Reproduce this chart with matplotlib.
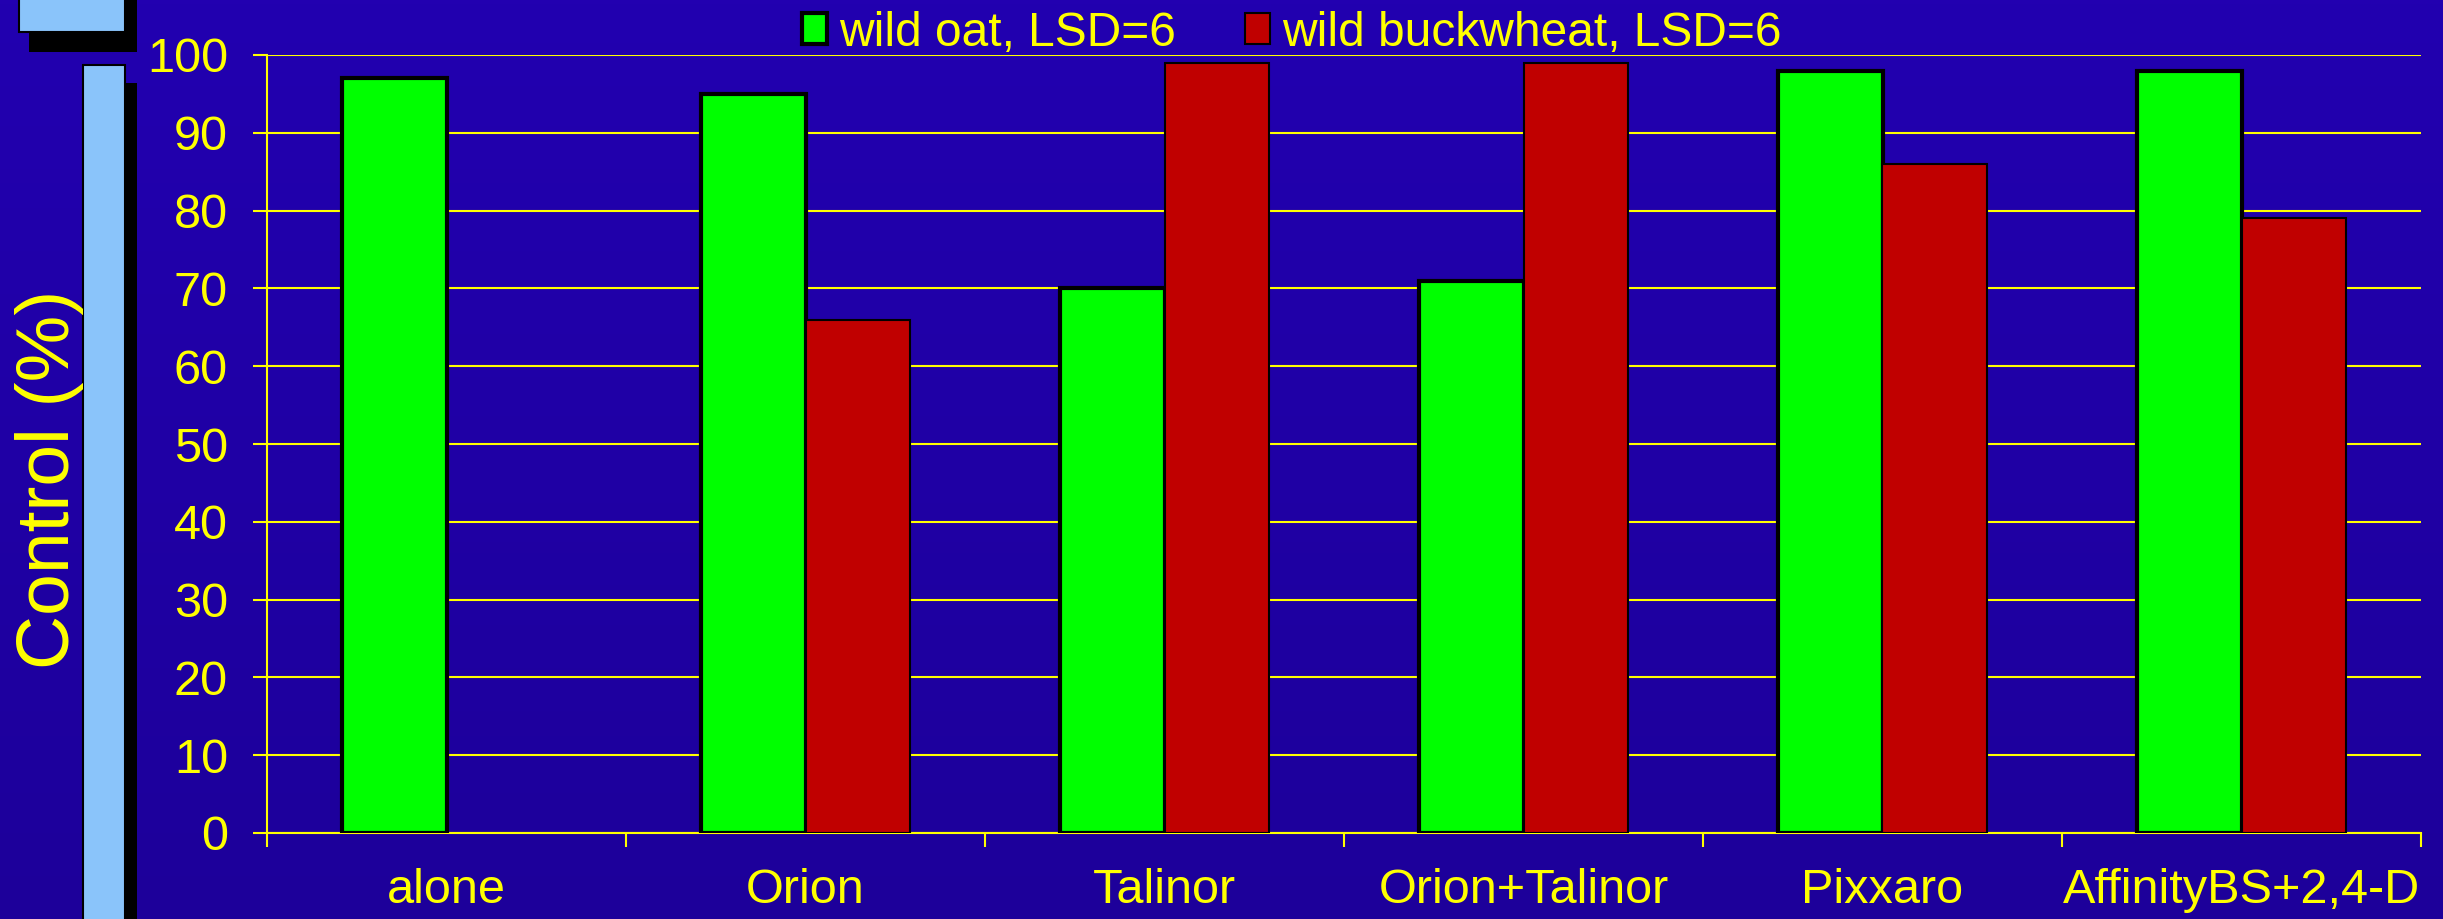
import numpy as np
import matplotlib.pyplot as plt
from matplotlib.patches import Rectangle
from matplotlib.colors import LinearSegmentedColormap

plt.rcParams['font.family'] = ['Liberation Sans', 'DejaVu Sans']

# data
categories = ["alone", "Orion", "Talinor", "Orion+Talinor", "Pixxaro", "AffinityBS+2,4-D"]
wild_oat = [97, 95, 70, 71, 98, 98]
wild_buckwheat = [np.nan, 66, 99, 99, 86, 79]
series_names = ["wild oat, LSD=6", "wild buckwheat, LSD=6"]
y_ticks = [0, 10, 20, 30, 40, 50, 60, 70, 80, 90, 100]

W, H = 2443, 919
yellow = "#FFFF00"
green = "#00FF00"
red = "#C00000"
light_blue = "#8AC4FA"

fig = plt.figure(figsize=(W / 100, H / 100), dpi=100)

# background gradient
bg = fig.add_axes([0, 0, 1, 1], zorder=-10)
cmap = LinearSegmentedColormap.from_list("bg", ["#1D009A", "#2200B0"])
bg.imshow(np.linspace(0, 1, 256).reshape(-1, 1), aspect="auto", cmap=cmap,
          origin="lower", extent=[0, 1, 0, 1])
bg.set_axis_off()


# helper: rectangle in pixel coords measured from the top-left corner
def px_rect(x0, y0, x1, y1, color, edge=None, lw=0):
    r = Rectangle((x0 / W, 1 - y1 / H), (x1 - x0) / W, (y1 - y0) / H,
                  transform=fig.transFigure, facecolor=color,
                  edgecolor=edge if edge else color, linewidth=lw, zorder=-5)
    fig.add_artist(r)


# decorative slide elements
px_rect(29, -5, 137, 52, "black")
px_rect(19, -5, 125, 32, light_blue, "black", 1.5)
px_rect(125, 83, 137, 930, "black")
px_rect(83, 65, 125, 930, light_blue, "black", 1.5)

ax = fig.add_axes([267 / W, 1 - 833 / H, (2421 - 267) / W, (833 - 55) / H])
ax.patch.set_alpha(0)

x = np.arange(len(categories))
w = 0.29
oat = np.array(wild_oat, dtype=float)
buck = np.array(wild_buckwheat, dtype=float)
mask = ~np.isnan(buck)

ax.bar(x - w / 2, oat, w, color=green, edgecolor="black", linewidth=3, zorder=3)
ax.bar(x[mask] + w / 2, buck[mask], w, color=red, edgecolor="black", linewidth=1.5, zorder=3)

ax.set_xlim(-0.5, len(categories) - 0.5)
ax.set_ylim(0, 100)
ax.set_yticks(y_ticks)
ax.set_xticks(x)
ax.set_xticklabels(categories)
ax.set_xticks(np.arange(len(categories) + 1) - 0.5, minor=True)

ax.yaxis.grid(True, color=yellow, linewidth=1.5)
ax.set_axisbelow(True)

for side in ["top", "right"]:
    ax.spines[side].set_visible(False)
for side in ["left", "bottom"]:
    ax.spines[side].set_color(yellow)
    ax.spines[side].set_linewidth(1.5)

ax.tick_params(axis="y", colors=yellow, labelsize=35, length=10, width=1.5, pad=18)
ax.tick_params(axis="x", which="major", colors=yellow, labelsize=35, length=0, pad=25)
ax.tick_params(axis="x", which="minor", colors=yellow, length=10, width=1.5)

fig.text(50 / W, 1 - 479 / H, "Control (%)", rotation=90, color=yellow,
         fontsize=54, ha="center", va="center")

handles = [
    Rectangle((0, 0), 1, 1, facecolor=green, edgecolor="black", linewidth=3),
    Rectangle((0, 0), 1, 1, facecolor=red, edgecolor="black", linewidth=1.5),
]
leg = fig.legend(handles, series_names, loc="center left", ncol=2,
                 bbox_to_anchor=(802 / W, 1 - 33 / H), frameon=False,
                 fontsize=34.5, handlelength=0.52, handleheight=0.6,
                 handletextpad=0.25, columnspacing=1.45, borderpad=0,
                 borderaxespad=0)
for t in leg.get_texts():
    t.set_color(yellow)

plt.savefig("out.png", dpi=100)
